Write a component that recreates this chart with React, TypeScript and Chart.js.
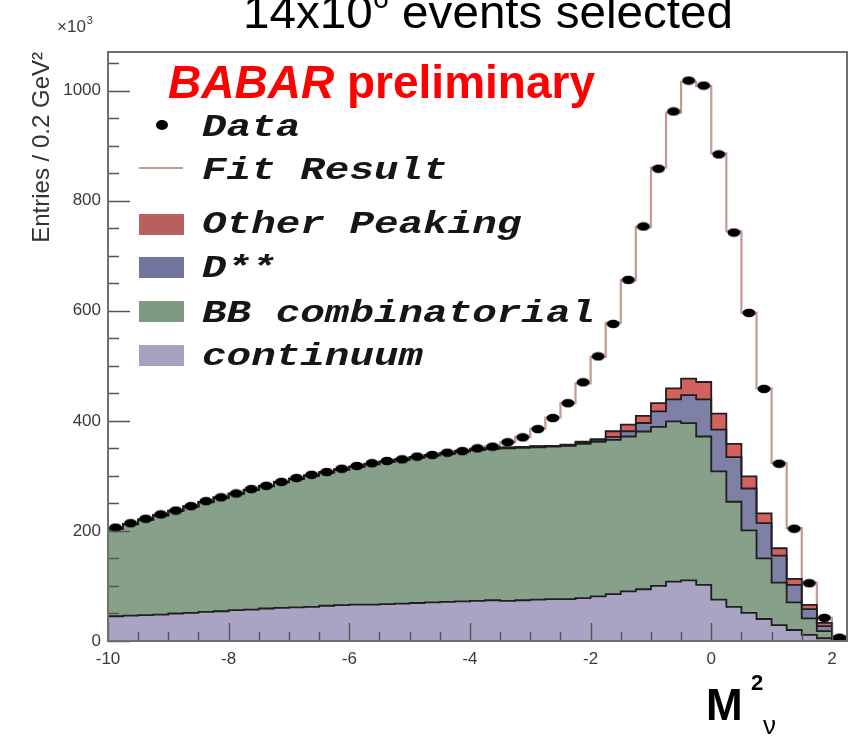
import { useEffect, useRef } from "react";
import { Chart, registerables } from "chart.js";

Chart.register(...registerables);

// Histogram binning: 49 bins of 0.25 starting at -10
const X_MIN = -10;
const X_MAX = 2.25;
const BIN_W = 0.25;
const Y_MAX = 1070;

const xTickValues = [-10, -8, -6, -4, -2, 0, 2];
const yTickValues = [0, 200, 400, 600, 800, 1000];

// Observed entries per bin
const dataCounts = [
  206, 214, 222, 230, 237, 245, 254, 261, 268, 276,
  282, 289, 296, 302, 307, 313, 318, 323, 327, 330,
  335, 338, 342, 345, 350, 353, 361, 370, 385, 405,
  432, 470, 517, 576, 656, 753, 858, 962, 1018, 1009,
  884, 742, 596, 458, 322, 204, 105, 42, 6,
];

// Total fit result per bin
const fitTotal = [
  205, 213, 221, 229, 237, 245, 253, 261, 268, 275,
  282, 289, 295, 301, 307, 312, 317, 322, 326, 330,
  334, 338, 342, 346, 350, 354, 361, 371, 386, 406,
  432, 468, 516, 578, 655, 752, 860, 960, 1016, 1008,
  886, 744, 596, 459, 323, 205, 106, 42, 8,
];

// Background components (stacked from the bottom)
const continuum = [
  45, 46, 47, 48, 50, 51, 53, 54, 56, 57,
  59, 60, 61, 62, 64, 65, 66, 66, 67, 68,
  69, 70, 71, 72, 73, 74, 73, 74, 75, 76,
  76, 78, 81, 85, 90, 94, 100, 108, 110, 102,
  75, 62, 51, 40, 29, 20, 11, 5, 2,
];

const bbCombinatorial = [
  159, 166, 173, 180, 186, 193, 199, 206, 211, 217,
  222, 228, 233, 238, 242, 246, 250, 255, 258, 261,
  264, 267, 269, 272, 274, 275, 277, 277, 277, 277,
  278.5, 280, 281, 280.5, 281.5, 286.6, 289, 290.8, 285.8, 269.5,
  233, 191, 150, 110, 77, 50, 30, 13, 4,
];

const dStarStar = [
  0.4, 0.4, 0.4, 0.4, 0.4, 0.4, 0.4, 0.4, 0.4, 0.4,
  0.6, 0.6, 0.6, 0.6, 0.6, 0.6, 0.6, 0.6, 0.6, 0.6,
  0.8, 0.8, 0.8, 0.8, 1, 1, 1.2, 1.3, 1.5, 1,
  1, 2, 3.5, 5.5, 9.5, 15.4, 28, 40, 51, 67.5,
  76, 81, 76, 64, 49, 32, 17, 9, 1,
];

const otherPeaking = [
  0.3, 0.3, 0.3, 0.3, 0.3, 0.3, 0.3, 0.3, 0.3, 0.3,
  0.3, 0.3, 0.3, 0.3, 0.3, 0.3, 0.3, 0.3, 0.3, 0.3,
  0.3, 0.3, 0.3, 0.3, 0.4, 0.4, 0.4, 0.4, 0.4, 0.4,
  1, 2, 1.2, 10, 12, 13, 15, 20, 30, 31.5,
  29, 24, 22, 18, 13.5, 11, 7.5, 6, 1,
];

const legendLabels = ["Data", "Fit Result", "Other Peaking", "D**", "BB combinatorial", "continuum"];

const COLORS = {
  continuum: "#a9a4c4",
  bb: "#87a089",
  dss: "#7f80a6",
  other: "#d3625f",
  fit: "#c49a92",
  outline: "#1f1f1f",
};

const LEGEND_COLORS = ["#b9605f", "#72759b", "#7e9a81", "#a7a2c2"];

const SANS = '"Liberation Sans", Arial, sans-serif';

// Step outline points: one point per bin low edge plus the final upper edge
function steps(vals: number[]) {
  const pts = vals.map((v, i) => ({ x: X_MIN + i * BIN_W, y: v }));
  pts.push({ x: X_MIN + vals.length * BIN_W, y: vals[vals.length - 1] });
  return pts;
}

function stackOf(...layers: number[][]) {
  return layers[0].map((_, i) => layers.reduce((s, l) => s + l[i], 0));
}

const axisDecor = {
  id: "axisDecor",
  afterDatasetsDraw(chart: any) {
    const { ctx, chartArea: a, scales } = chart;
    const xs = scales.x;
    const ys = scales.y;
    ctx.save();
    ctx.strokeStyle = "#555";
    ctx.lineWidth = 1.4;
    ctx.beginPath();
    for (let v = X_MIN; v <= X_MAX + 1e-9; v += 0.5) {
      const px = Math.round(xs.getPixelForValue(v)) + 0.5;
      const major = Math.abs(v / 2 - Math.round(v / 2)) < 1e-9;
      ctx.moveTo(px, a.bottom);
      ctx.lineTo(px, a.bottom - (major ? 18 : 9));
    }
    for (let v = 0; v <= Y_MAX; v += 50) {
      const py = Math.round(ys.getPixelForValue(v)) + 0.5;
      const major = v % 200 === 0;
      ctx.moveTo(a.left, py);
      ctx.lineTo(a.left + (major ? 22 : 11), py);
    }
    ctx.stroke();
    ctx.strokeStyle = "#707070";
    ctx.lineWidth = 2;
    ctx.strokeRect(a.left, a.top, a.right - a.left, a.bottom - a.top);
    ctx.restore();
  },
};

const annotations = {
  id: "annotations",
  afterDraw(chart: any) {
    const ctx: CanvasRenderingContext2D = chart.ctx;
    ctx.save();
    ctx.textBaseline = "alphabetic";
    ctx.textAlign = "left";

    // Headline
    const main = `46px ${SANS}`;
    const sup = `28px ${SANS}`;
    ctx.font = main;
    const w1 = ctx.measureText("14x10").width;
    const w3 = ctx.measureText(" events selected").width;
    ctx.font = sup;
    const w2 = ctx.measureText("6").width;
    const sx = 490 / (w1 + w2 + w3);
    ctx.save();
    ctx.translate(243, 28);
    ctx.scale(sx, 1);
    ctx.fillStyle = "#000";
    ctx.font = main;
    ctx.fillText("14x10", 0, 0);
    ctx.fillText(" events selected", w1 + w2, 0);
    ctx.font = sup;
    ctx.fillText("6", w1, -20);
    ctx.restore();

    // Axis multiplier
    ctx.fillStyle = "#3a3a3a";
    ctx.font = `17px ${SANS}`;
    ctx.fillText("×10", 57, 32);
    const wm = ctx.measureText("×10").width;
    ctx.font = `11px ${SANS}`;
    ctx.fillText("3", 57 + wm + 1, 24);

    // BABAR preliminary
    ctx.fillStyle = "#ff0000";
    ctx.font = `italic bold 46px ${SANS}`;
    ctx.fillText("BABAR", 168, 98);
    ctx.font = `bold 46px ${SANS}`;
    ctx.fillText("preliminary", 347, 98);

    // Legend
    const lfont = 'italic bold 31px "Liberation Mono", "Courier New", monospace';
    ctx.font = lfont;
    const lsx = 393 / ctx.measureText("BB combinatorial").width;
    const drawLabel = (t: string, y: number) => {
      ctx.save();
      ctx.translate(202, y);
      ctx.scale(lsx, 1);
      ctx.font = lfont;
      ctx.fillStyle = "#161616";
      ctx.fillText(t, 0, 0);
      ctx.restore();
    };
    ctx.fillStyle = "#000";
    ctx.beginPath();
    ctx.ellipse(162, 125, 6, 5, 0, 0, Math.PI * 2);
    ctx.fill();
    drawLabel(legendLabels[0], 136);

    ctx.strokeStyle = COLORS.fit;
    ctx.lineWidth = 2.2;
    ctx.beginPath();
    ctx.moveTo(139, 168);
    ctx.lineTo(183, 168);
    ctx.stroke();
    drawLabel(legendLabels[1], 179);

    const boxes = [
      { top: 214, base: 233 },
      { top: 257, base: 277 },
      { top: 301, base: 322 },
      { top: 345, base: 365 },
    ];
    boxes.forEach((b, i) => {
      ctx.fillStyle = LEGEND_COLORS[i];
      ctx.fillRect(139, b.top, 45, 21);
      drawLabel(legendLabels[i + 2], b.base);
    });

    // x-axis variable
    ctx.fillStyle = "#000";
    ctx.font = `bold 44px ${SANS}`;
    ctx.fillText("M", 706, 720);
    ctx.font = `bold 22px ${SANS}`;
    ctx.fillText("2", 751, 690);
    ctx.font = `26px ${SANS}`;
    ctx.fillText("ν", 763, 734);

    ctx.restore();
  },
};

export default function App() {
  const canvasRef = useRef<HTMLCanvasElement | null>(null);

  useEffect(() => {
    const canvas = canvasRef.current;
    if (!canvas) return;

    const marker = document.createElement("canvas");
    marker.width = 14;
    marker.height = 10;
    const mctx = marker.getContext("2d")!;
    mctx.fillStyle = "#000";
    mctx.beginPath();
    mctx.ellipse(7, 5, 6.5, 4.2, 0, 0, Math.PI * 2);
    mctx.fill();

    const contTop = stackOf(continuum);
    const bbTop = stackOf(continuum, bbCombinatorial);
    const dssTop = stackOf(continuum, bbCombinatorial, dStarStar);
    const otherTop = stackOf(continuum, bbCombinatorial, dStarStar, otherPeaking);

    const layer = (vals: number[], color: string, fill: any, order: number) => ({
      type: "line" as const,
      data: steps(vals),
      stepped: "before" as const,
      fill,
      backgroundColor: color,
      borderColor: COLORS.outline,
      borderWidth: 1.8,
      pointRadius: 0,
      order,
    });

    const tickFont = { family: SANS, size: 17 };

    const chart = new Chart(canvas, {
      type: "line",
      data: {
        datasets: [
          layer(contTop, COLORS.continuum, "origin", 6),
          layer(bbTop, COLORS.bb, "-1", 5),
          layer(dssTop, COLORS.dss, "-1", 4),
          layer(otherTop, COLORS.other, "-1", 3),
          {
            type: "line",
            data: steps(fitTotal),
            stepped: "before",
            fill: false,
            borderColor: COLORS.fit,
            borderWidth: 2.2,
            pointRadius: 0,
            order: 7,
          },
          {
            type: "line",
            data: dataCounts.map((v, i) => ({ x: X_MIN + (i + 0.5) * BIN_W, y: v })),
            showLine: false,
            pointStyle: marker,
            pointRadius: 6,
            order: 0,
          },
        ] as any,
      },
      options: {
        animation: false,
        responsive: false,
        devicePixelRatio: 1,
        events: [],
        layout: { padding: { left: 28, top: 52, right: 9, bottom: 61 } },
        plugins: {
          legend: { display: false },
          tooltip: { enabled: false },
          filler: { drawTime: "beforeDatasetsDraw" },
        },
        scales: {
          x: {
            type: "linear",
            min: X_MIN,
            max: X_MAX,
            grid: { display: false, drawTicks: false },
            border: { display: false },
            afterBuildTicks: (s: any) => {
              s.ticks = xTickValues.map((v) => ({ value: v }));
            },
            afterFit: (s: any) => {
              s.height = 40;
            },
            ticks: {
              autoSkip: false,
              maxRotation: 0,
              padding: 8,
              color: "#3a3a3a",
              font: tickFont,
              callback: (v: any) => String(v),
            },
          },
          y: {
            type: "linear",
            min: 0,
            max: Y_MAX,
            grid: { display: false, drawTicks: false },
            border: { display: false },
            afterBuildTicks: (s: any) => {
              s.ticks = yTickValues.map((v) => ({ value: v }));
            },
            afterFit: (s: any) => {
              s.width = 80;
            },
            ticks: {
              padding: 7,
              color: "#3a3a3a",
              font: tickFont,
              callback: (v: any) => String(v),
            },
            title: {
              display: true,
              text: "Entries / 0.2 GeV²",
              align: "end",
              color: "#333",
              padding: { top: 0, bottom: 0 },
              font: { family: SANS, size: 24 },
            },
          },
        },
      } as any,
      plugins: [axisDecor, annotations],
    });

    return () => chart.destroy();
  }, []);

  return (
    <div style={{ position: "fixed", left: 0, top: 0, width: 856, height: 742, background: "#fff" }}>
      <canvas ref={canvasRef} width={856} height={742} />
    </div>
  );
}
